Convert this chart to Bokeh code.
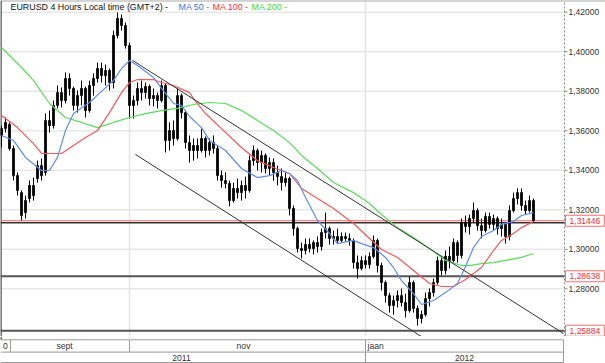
from bokeh.plotting import figure
from bokeh.models import Range1d, ColumnDataSource, Label
from bokeh.layouts import column
from bokeh.embed import file_html
from bokeh.resources import INLINE
from bokeh.core.properties import value

# ---- EURUSD 4h candles (prices in pips, /10000) ----
open_pips = [13576, 13611, 13632, 13510, 13373, 13287, 13186, 13257, 13323, 13358,
             13424, 13389, 13652, 13626, 13728, 13793, 13753, 13864, 13814, 13728,
             13778, 13814, 13702, 13829, 13864, 13915, 13879, 13905, 13844, 14082,
             14168, 14132, 14031, 13728, 13753, 13814, 13793, 13824, 13763, 13778,
             13753, 13829, 13551, 13601, 13561, 13778, 13692, 13540, 13500, 13525,
             13500, 13561, 13500, 13540, 13510, 13373, 13348, 13333, 13247, 13308,
             13287, 13323, 13298, 13449, 13500, 13439, 13475, 13409, 13439, 13389,
             13368, 13338, 13358, 13207, 13105, 13004, 12994, 13024, 13004, 13034,
             13014, 13085, 13105, 13055, 13065, 13045, 13065, 13055, 13045, 12933,
             12903, 12943, 12923, 12964, 13045, 12918, 12832, 12766, 12716, 12741,
             12766, 12731, 12690, 12832, 12701, 12650, 12670, 12751, 12781, 12832,
             12943, 12893, 12964, 12943, 13034, 12969, 13136, 13115, 13156, 13196,
             13120, 13095, 13166, 13126, 13156, 13105, 13126, 13065, 13196, 13257,
             13287, 13222, 13196, 13247]
high_pips = [13626, 13667, 13642, 13525, 13389, 13298, 13272, 13348, 13363, 13449,
             13460, 13687, 13702, 13753, 13829, 13819, 13895, 13890, 13824, 13804,
             13854, 13824, 13854, 13890, 13945, 13945, 13935, 13915, 14107, 14198,
             14188, 14148, 14046, 13778, 13844, 13854, 13844, 13834, 13814, 13793,
             13854, 13839, 13642, 13652, 13814, 13788, 13702, 13576, 13561, 13561,
             13611, 13571, 13561, 13576, 13525, 13399, 13389, 13348, 13338, 13358,
             13348, 13368, 13475, 13525, 13510, 13500, 13485, 13465, 13460, 13424,
             13409, 13389, 13368, 13222, 13115, 13034, 13055, 13055, 13045, 13065,
             13105, 13186, 13115, 13095, 13105, 13085, 13085, 13080, 13055, 12969,
             12964, 12969, 12984, 13070, 13055, 12933, 12842, 12781, 12766, 12792,
             12802, 12776, 12862, 12842, 12716, 12690, 12781, 12802, 12852, 12964,
             12964, 12994, 13014, 13055, 13045, 13156, 13171, 13176, 13237, 13207,
             13156, 13186, 13186, 13176, 13166, 13156, 13136, 13222, 13287, 13308,
             13308, 13247, 13272, 13257]
low_pips = [13515, 13591, 13500, 13348, 13272, 13146, 13156, 13237, 13247, 13338,
            13348, 13373, 13591, 13611, 13713, 13718, 13738, 13778, 13702, 13692,
            13728, 13667, 13692, 13778, 13844, 13844, 13829, 13804, 13814, 14067,
            14107, 14016, 13662, 13662, 13728, 13753, 13763, 13728, 13723, 13713,
            13743, 13490, 13500, 13525, 13551, 13662, 13510, 13439, 13449, 13460,
            13490, 13465, 13475, 13485, 13348, 13313, 13308, 13217, 13237, 13257,
            13247, 13257, 13287, 13424, 13399, 13389, 13384, 13373, 13348, 13323,
            13298, 13318, 13171, 13070, 12984, 12954, 12974, 12984, 12974, 12984,
            12994, 13055, 13024, 13024, 13029, 13034, 13040, 13019, 12903, 12852,
            12893, 12903, 12903, 12954, 12883, 12792, 12731, 12680, 12670, 12706,
            12711, 12655, 12680, 12680, 12614, 12625, 12660, 12711, 12761, 12822,
            12867, 12873, 12903, 12933, 12933, 12954, 13085, 13075, 13136, 13095,
            13055, 13085, 13105, 13095, 13075, 13065, 13029, 13045, 13186, 13227,
            13196, 13176, 13186, 13136]
close_pips = [13611, 13642, 13510, 13373, 13298, 13171, 13247, 13323, 13272, 13424,
              13373, 13652, 13626, 13728, 13793, 13753, 13864, 13814, 13728, 13778,
              13814, 13702, 13829, 13864, 13915, 13879, 13905, 13844, 14082, 14168,
              14132, 14031, 13728, 13753, 13814, 13793, 13824, 13763, 13778, 13753,
              13829, 13551, 13601, 13561, 13778, 13692, 13540, 13500, 13525, 13500,
              13561, 13500, 13540, 13510, 13373, 13348, 13333, 13247, 13308, 13287,
              13323, 13298, 13449, 13500, 13439, 13475, 13409, 13439, 13389, 13368,
              13338, 13358, 13207, 13105, 13004, 12994, 13024, 13004, 13034, 13014,
              13085, 13105, 13055, 13065, 13045, 13065, 13055, 13045, 12933, 12903,
              12943, 12923, 12964, 13045, 12918, 12832, 12766, 12716, 12741, 12766,
              12731, 12690, 12832, 12701, 12650, 12670, 12751, 12781, 12832, 12943,
              12893, 12964, 12943, 13034, 12969, 13136, 13115, 13156, 13196, 13120,
              13095, 13166, 13126, 13156, 13105, 13126, 13065, 13196, 13257, 13287,
              13222, 13196, 13247, 13145]

# ---- moving averages (bar index, pips) ----
ma50_idx = [0, 3, 6, 10, 12, 14, 16, 18, 22, 25, 28, 30, 32, 34, 38, 40, 43, 45, 47, 50,
            52, 56, 60, 64, 67, 70, 72, 74, 76, 79, 82, 84, 88, 90, 93, 96, 98, 100, 103, 105,
            108, 111, 114, 116, 118, 120, 123, 125, 128, 130, 133]
ma50_pips = [13576, 13551, 13465, 13399, 13399, 13465, 13601, 13687, 13743, 13799,
             13854, 13915, 13955, 13930, 13869, 13814, 13738, 13728, 13672, 13616,
             13551, 13500, 13409, 13363, 13373, 13399, 13384, 13348, 13262, 13146,
             13080, 13029, 13045, 13029, 13009, 12959, 12908, 12842, 12776, 12721,
             12741, 12781, 12827, 12913, 13009, 13065, 13095, 13126, 13141, 13171, 13186]
ma100_idx = [0, 4, 8, 10, 15, 18, 21, 24, 27, 30, 32, 34, 38, 40, 43, 47, 48, 51, 55, 60,
             64, 68, 72, 75, 79, 83, 88, 92, 95, 99, 103, 107, 110, 113, 116, 120, 123, 125,
             128, 130, 133]
ma100_pips = [13677, 13616, 13535, 13485, 13485, 13525, 13566, 13601, 13692, 13793,
              13844, 13859, 13859, 13844, 13829, 13793, 13763, 13687, 13611, 13515,
              13449, 13414, 13384, 13308, 13257, 13207, 13131, 13055, 12999, 12959,
              12893, 12827, 12812, 12812, 12847, 12908, 12994, 13045, 13080, 13110, 13141]
ma200_idx = [0, 5, 8, 12, 16, 20, 24, 28, 32, 36, 40, 44, 48, 52, 56, 60, 64, 68, 72, 75,
             79, 83, 88, 92, 95, 99, 103, 107, 111, 115, 117, 120, 123, 127, 130, 133]
ma200_pips = [14021, 13920, 13854, 13738, 13667, 13642, 13616, 13642, 13667, 13687,
              13702, 13713, 13733, 13743, 13738, 13702, 13652, 13601, 13540, 13475,
              13409, 13338, 13287, 13232, 13176, 13110, 13060, 13004, 12944, 12918,
              12918, 12928, 12933, 12948, 12959, 12979]

# ---- drawn trend channel and levels ----
upper_idx = [32.75, 140.5]
upper_price = [1.3956, 1.2574]
lower_idx = [33.5, 106.5]
lower_price = [1.3480, 1.2539]
level_prices = [1.28638, 1.25884]
level_labels = ["1,28638", "1,25884"]
last_price = 1.31446
last_label = "1,31446"
support_price = 1.3135

axis_ticks = [1.28, 1.30, 1.32, 1.34, 1.36, 1.38, 1.40, 1.42]
axis_tick_labels = ["1,28000", "1,30000", "1,32000", "1,34000", "1,36000", "1,38000",
                    "1,40000", "1,42000"]
month_labels = ["0", "sept", "nov", "jaan"]
year_labels = ["2011", "2012"]

# ---------------------------------------------------------------
FONT = "Liberation Sans"
X0, XAX, XEND = -0.25, 140.75, 151.0   # left edge, price-axis line, right edge (bar units)
Y0, Y1 = 1.2559, 1.4259

n = len(open_pips)
o = [v / 10000 for v in open_pips]
h = [v / 10000 for v in high_pips]
l = [v / 10000 for v in low_pips]
c = [v / 10000 for v in close_pips]
src = ColumnDataSource(dict(i=list(range(n)), o=o, h=h, l=l, c=c,
                            top=[max(a, b) for a, b in zip(o, c)],
                            bot=[min(a, b) for a, b in zip(o, c)]))

p = figure(width=605, height=336, x_range=Range1d(X0, XEND), y_range=Range1d(Y0, Y1),
           output_backend="svg", toolbar_location=None, x_axis_location=None,
           y_axis_location=None, min_border_left=0, min_border_top=0,
           min_border_bottom=0, min_border_right=0)
p.grid.visible = False
p.background_fill_color = "white"
p.border_fill_color = "white"
p.outline_line_color = None

# grid
nt = len(axis_ticks)
p.segment(x0=[X0] * nt, y0=axis_ticks, x1=[XAX] * nt, y1=axis_ticks,
          line_color="#e8e8e8", line_width=1.5)
p.segment(x0=[32, 91], y0=[Y0, Y0], x1=[32, 91], y1=[Y1, Y1],
          line_color="#e4e4e4", line_width=1.5)

# borders (top, left)
p.segment(x0=[X0, X0 + 0.1], y0=[Y1, Y0], x1=[XEND, X0 + 0.1], y1=[Y1, Y1],
          line_color=["#aaaaaa", "#6a6a6a"], line_width=2)

# price axis
p.segment(x0=[XAX], y0=[Y0], x1=[XAX], y1=[Y1], line_color="#888888",
          line_width=1, line_dash="2 2")
p.segment(x0=[XAX] * nt, y0=axis_ticks, x1=[XAX + 0.75] * nt, y1=axis_ticks,
          line_color="#888888", line_width=1)
p.text(x=[XAX + 1.0] * nt, y=axis_ticks, text=axis_tick_labels,
       text_font=value(FONT), text_font_size=value("8.5px"), text_color="#333333",
       text_align="left", text_baseline="middle")

# levels
p.segment(x0=[X0], y0=[support_price], x1=[XAX], y1=[support_price],
          line_color="#333333", line_width=1.5)
p.segment(x0=[X0], y0=[last_price], x1=[XAX], y1=[last_price],
          line_color="#ff6060", line_width=1)
p.segment(x0=[X0] * 2, y0=level_prices, x1=[XAX] * 2, y1=level_prices,
          line_color="#555555", line_width=2)

# candles
p.segment(x0="i", y0="h", x1="i", y1="l", source=src, line_color="black", line_width=1)
p.vbar(x="i", width=0.5, top="top", bottom="bot", source=src,
       fill_color="black", line_color="black", line_width=0.8)

# moving averages
p.line(ma200_idx, [v / 10000 for v in ma200_pips], line_color="#55e055", line_width=1.2)
p.line(ma100_idx, [v / 10000 for v in ma100_pips], line_color="#ff5555", line_width=1.2)
p.line(ma50_idx, [v / 10000 for v in ma50_pips], line_color="#5b8cff", line_width=1.2)

# channel
p.line(upper_idx, upper_price, line_color="#333333", line_width=1)
p.line(lower_idx, lower_price, line_color="#333333", line_width=1)

# red price boxes on the axis
box_prices = [last_price] + level_prices
box_texts = [last_label] + level_labels
bx_l, bx_r = XAX + 0.25, XEND - 0.3
p.rect(x=[(bx_l + bx_r) / 2] * 3, y=box_prices, width=bx_r - bx_l, height=11,
       height_units="screen", fill_color="white", line_color="#ff6b6b", line_width=1)
p.text(x=[(bx_l + bx_r) / 2] * 3, y=box_prices, text=box_texts, text_font=value(FONT),
       text_font_size=value("8.5px"), text_color="#ff2a2a", text_align="center",
       text_baseline="middle")

# header legend
hdr = [("EURUSD 4 Hours Local time (GMT+2)  -", 10, "#111111"),
       ("MA 50 -", 178, "#3f6ff5"),
       ("MA 100 -", 212, "#ff3030"),
       ("MA 200 -", 251, "#33dd33")]
for t, xx, col in hdr:
    p.add_layout(Label(x=xx, y=329.5, x_units="screen", y_units="screen", text=t,
                       text_font=FONT, text_font_size="8.9px", text_color=col,
                       text_baseline="middle", text_align="left"))

# ---- date strip ----
p2 = figure(width=605, height=27, x_range=p.x_range, y_range=Range1d(0, 27),
            output_backend="svg", toolbar_location=None, x_axis_location=None,
            y_axis_location=None, min_border_left=0, min_border_right=0,
            min_border_top=0, min_border_bottom=0)
p2.grid.visible = False
p2.outline_line_color = None
p2.background_fill_color = "white"
p2.border_fill_color = "white"
p2.segment(x0=[X0, X0, X0, 2.25, 32, 91, 140.5, X0 + 0.1],
           y0=[23.7, 11.4, 1.0, 11.4, 11.4, 1.0, 1.0, 23.7],
           x1=[140.5, 140.5, 140.5, 2.25, 32, 91, 140.5, X0 + 0.1],
           y1=[23.7, 11.4, 1.0, 23.7, 23.7, 23.7, 23.7, 27],
           line_color=["#9a9a9a"] * 7 + ["#6a6a6a"], line_width=[1] * 7 + [2])
p2.segment(x0=[32], y0=[23.7], x1=[32], y1=[27], line_color="#e4e4e4", line_width=1.5)
tf = value(FONT)
fs = value("8.6px")
p2.text(x=[1.6], y=[17.5], text=[month_labels[0]], text_font=tf, text_font_size=fs,
        text_color="#333333", text_align="right", text_baseline="middle")
p2.text(x=[15.75, 60.5], y=[17.5, 17.5], text=month_labels[1:3], text_font=tf,
        text_font_size=fs, text_color="#333333", text_align="center", text_baseline="middle")
p2.text(x=[91.5], y=[17.5], text=[month_labels[3]], text_font=tf, text_font_size=fs,
        text_color="#333333", text_align="left", text_baseline="middle")
p2.text(x=[45, 115.75], y=[6.0, 6.0], text=year_labels, text_font=tf, text_font_size=fs,
        text_color="#333333", text_align="center", text_baseline="middle")

layout = column(p, p2, spacing=0)
open("out.html", "w").write(file_html(layout, INLINE))
